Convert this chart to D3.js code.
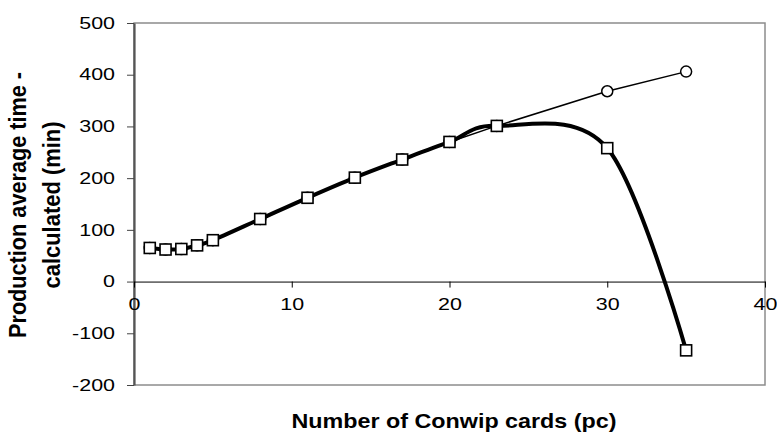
<!DOCTYPE html>
<html><head><meta charset="utf-8">
<script src="https://cdn.jsdelivr.net/npm/d3@7"></script>
<style>body{margin:0;background:#fff}svg{display:block}text{font-family:"Liberation Sans",Arial,sans-serif}</style>
</head><body>
<svg id="c" width="777" height="432"></svg>
<script>
const cards = [1, 2, 3, 4, 5, 8, 11, 14, 17, 20, 23, 30, 35];
const simulated = [65, 62, 63, 70, 80, 121, 162, 201, 236, 270, 301, 368, 406];
const calculated = [65, 62, 63, 70, 80, 121, 162, 201, 236, 270, 301, 258, -133];
const xTicks = [0, 10, 20, 30, 40];
const yTicks = [-200, -100, 0, 100, 200, 300, 400, 500];

const svg = d3.select("#c");
const L = 134, R = 765, T = 23, B = 385;
const x = d3.scaleLinear().domain([0, 40]).range([L, R]);
const y = d3.scaleLinear().domain([-200, 500]).range([B, T]);
const SX = 1.3, FS = 16.5;

// frame
svg.append("rect").attr("x", L).attr("y", T).attr("width", R - L).attr("height", B - T)
  .attr("fill", "none").attr("stroke", "#8c8c8c").attr("stroke-width", 1.5);

// y axis
const ya = svg.append("g").attr("transform", `translate(${L},0)`)
  .call(d3.axisLeft(y).tickValues(yTicks).tickSize(7).tickSizeOuter(0).tickFormat(d => String(d)));
ya.select(".domain").attr("stroke", "#555").attr("stroke-width", 2.2);
ya.selectAll("line").attr("stroke", "#444");
ya.selectAll("text").attr("font-size", FS).attr("fill", "#000")
  .style("font-family", "Liberation Sans, Arial, sans-serif")
  .attr("x", -19 / SX).attr("transform", `scale(${SX},1)`);

// x axis at y=0
const xa = svg.append("g").attr("transform", `translate(0,${y(0)})`)
  .call(d3.axisBottom(x).tickValues(xTicks).tickSize(6).tickPadding(11).tickSizeOuter(0).tickFormat(d => String(d)));
xa.select(".domain").attr("stroke", "#000").attr("stroke-width", 1);
xa.selectAll("line").attr("stroke", "#000");
xa.selectAll("text").attr("font-size", FS).attr("fill", "#000")
  .style("font-family", "Liberation Sans, Arial, sans-serif")
  .attr("transform", `scale(${SX},1)`);

const simData = cards.map((c, i) => [c, simulated[i]]);
const calcData = cards.map((c, i) => [c, calculated[i]]);

// simulated (thin, straight)
svg.append("path").datum(simData)
  .attr("d", d3.line().x(d => x(d[0])).y(d => y(d[1])))
  .attr("fill", "none").attr("stroke", "#000").attr("stroke-width", 1.5);
svg.selectAll("circle.sim").data(simData).join("circle").attr("class", "sim")
  .attr("cx", d => x(d[0])).attr("cy", d => y(d[1])).attr("r", 5.5)
  .attr("fill", "#fff").attr("stroke", "#000").attr("stroke-width", 1.5);

// calculated (thick, smoothed)
svg.append("path").datum(calcData)
  .attr("d", d3.line().curve(d3.curveCardinal.tension(0)).x(d => x(d[0])).y(d => y(d[1])))
  .attr("fill", "none").attr("stroke", "#000").attr("stroke-width", 4);
svg.selectAll("rect.calc").data(calcData).join("rect").attr("class", "calc")
  .attr("x", d => x(d[0]) - 5.5).attr("y", d => y(d[1]) - 5.5).attr("width", 11).attr("height", 11)
  .attr("fill", "#fff").attr("stroke", "#000").attr("stroke-width", 1.6);

// titles
svg.append("text").attr("x", 454).attr("y", 428).attr("text-anchor", "middle")
  .attr("font-size", 21).attr("font-weight", "bold")
  .attr("textLength", 325).attr("lengthAdjust", "spacingAndGlyphs")
  .text("Number of Conwip cards (pc)");
const yt = svg.append("g").attr("transform", "translate(0,205) scale(1.18,1) rotate(-90)");
yt.append("text").attr("x", 0).attr("y", 26.5 / 1.18).attr("text-anchor", "middle")
  .attr("font-size", 19.5).attr("font-weight", "bold")
  .attr("textLength", 266).attr("lengthAdjust", "spacingAndGlyphs")
  .text("Production average time -");
yt.append("text").attr("x", 0).attr("y", 60 / 1.18).attr("text-anchor", "middle")
  .attr("font-size", 19.5).attr("font-weight", "bold")
  .attr("textLength", 167).attr("lengthAdjust", "spacingAndGlyphs")
  .text("calculated (min)");
</script>
</body></html>
